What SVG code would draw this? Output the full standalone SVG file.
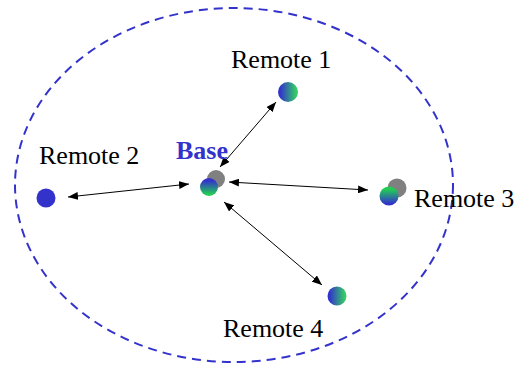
<svg xmlns="http://www.w3.org/2000/svg" width="525" height="367" viewBox="0 0 525 367">
<defs>
<linearGradient id="gH" x1="0" y1="0" x2="1" y2="0"><stop offset="0.1" stop-color="#3333cc"/><stop offset="0.9" stop-color="#33cc66"/></linearGradient>
<linearGradient id="gVbg" x1="0" y1="0" x2="0" y2="1"><stop offset="0.15" stop-color="#3333cc"/><stop offset="0.9" stop-color="#22cc55"/></linearGradient>
<linearGradient id="gVgb" x1="0" y1="0" x2="0" y2="1"><stop offset="0.15" stop-color="#22cc55"/><stop offset="0.9" stop-color="#3333cc"/></linearGradient>
<marker id="ah" viewBox="0 0 10 8" refX="10" refY="4" markerWidth="10" markerHeight="8" markerUnits="userSpaceOnUse" orient="auto-start-reverse"><path d="M0,0 L10,4 L0,8 Z" fill="#000"/></marker>
</defs>
<style>
.lbl{font-family:"Liberation Serif","Times New Roman",serif;font-size:26px;fill:#000}
.base{font-family:"Liberation Serif","Times New Roman",serif;font-size:26px;font-weight:bold;fill:#3333cc}
.conn line{stroke:#000;stroke-width:1;marker-start:url(#ah);marker-end:url(#ah)}
.gray{fill:#808080}
</style>
<rect width="525" height="367" fill="#fff"/>
<ellipse cx="234" cy="185" rx="219" ry="177" fill="none" stroke="#3333cc" stroke-width="2" stroke-dasharray="9,6"/>
<g id="connectors" class="conn">
<line x1="220" y1="167" x2="276" y2="102"/>
<line x1="189" y1="184" x2="68" y2="197"/>
<line x1="229" y1="182" x2="368" y2="190"/>
<line x1="224" y1="202" x2="322" y2="285"/>
</g>
<g id="base">
<circle class="gray" cx="216" cy="179" r="9"/>
<circle cx="209" cy="187" r="9" fill="url(#gVbg)"/>
<text class="base" x="176" y="159">Base</text>
</g>
<g id="remote1">
<circle cx="288" cy="92" r="10" fill="url(#gH)"/>
<text class="lbl" x="231" y="68">Remote 1</text>
</g>
<g id="remote2">
<circle cx="46" cy="198" r="9.5" fill="#3333cc"/>
<text class="lbl" x="39" y="164">Remote 2</text>
</g>
<g id="remote3">
<circle class="gray" cx="397" cy="188" r="9.5"/>
<circle cx="389" cy="196" r="9.5" fill="url(#gVgb)"/>
<text class="lbl" x="414" y="207">Remote 3</text>
</g>
<g id="remote4">
<circle cx="337" cy="296" r="9.5" fill="url(#gH)"/>
<text class="lbl" x="223" y="337">Remote 4</text>
</g>
</svg>
